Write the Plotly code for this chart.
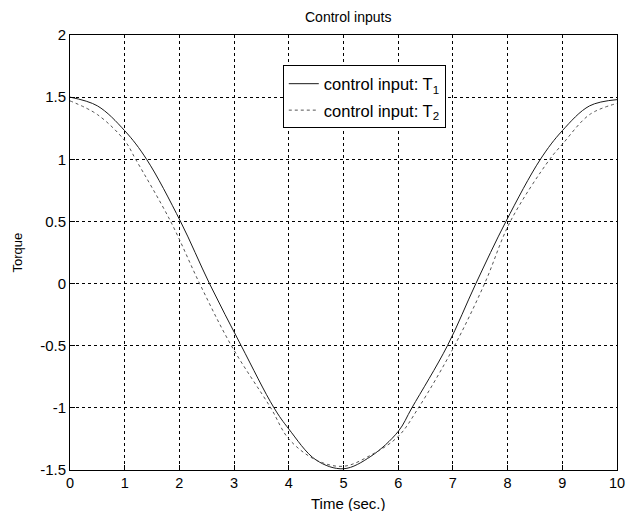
import plotly.graph_objects as go

# Data
t1_time = [0, 0.5, 1, 1.4, 2.02, 2.55, 3.13, 3.73, 4, 4.5, 5, 5.5, 6, 6.25, 6.9, 7.42, 7.97, 8.6, 9, 9.5, 10]
t1_torque = [1.5, 1.43, 1.23, 1.0, 0.5, 0.0, -0.5, -1.0, -1.17, -1.42, -1.49, -1.39, -1.19, -1.0, -0.5, 0.0, 0.5, 1.0, 1.23, 1.43, 1.48]

t2_time = [0, 0.5, 1, 1.2, 1.84, 2.37, 2.95, 3.67, 4, 4.5, 5, 5.5, 6, 6.37, 7.03, 7.58, 8.05, 8.77, 9, 9.5, 10]
t2_torque = [1.47, 1.36, 1.15, 1.0, 0.5, 0.0, -0.5, -1.0, -1.25, -1.42, -1.47, -1.38, -1.23, -1.0, -0.5, 0.0, 0.5, 1.0, 1.12, 1.36, 1.45]

x_ticks = [0, 1, 2, 3, 4, 5, 6, 7, 8, 9, 10]
y_ticks = [-1.5, -1, -0.5, 0, 0.5, 1, 1.5, 2]
y_tick_labels = ["-1.5", "-1", "-0.5", "0", "0.5", "1", "1.5", "2"]

FONT = "Liberation Sans, Arial, sans-serif"

fig = go.Figure()
fig.add_trace(go.Scatter(
    x=t1_time, y=t1_torque, mode="lines", name="control input: T<sub>1</sub>",
    legendgroup="a",
    line=dict(color="#1a1a1a", width=1, shape="spline", smoothing=1.0),
))
fig.add_trace(go.Scatter(
    x=t2_time, y=t2_torque, mode="lines", name="control input: T<sub>2</sub>",
    legendgroup="b",
    line=dict(color="#555555", width=1, dash="3px,3px", shape="spline", smoothing=1.0),
))

axis_common = dict(
    showline=True, mirror=True, linecolor="black", linewidth=1,
    showgrid=True, gridcolor="black", gridwidth=1, griddash="3px,3px",
    ticks="inside", ticklen=5, tickcolor="black", tickwidth=1,
    zeroline=False, ticklabeloverflow="allow", automargin=False,
)

# The page body has an 8px default margin, so the figure is sized/offset to
# compensate and kept small enough that no scrollbar appears.
fig.update_layout(
    width=626, height=503,
    margin=dict(l=62, r=17, t=26.5, b=40.5),
    paper_bgcolor="white", plot_bgcolor="white",
    font=dict(family=FONT, size=12, color="black"),
    showlegend=True,
    legend=dict(
        x=0.389, y=0.93, xanchor="left", yanchor="top",
        bgcolor="white", bordercolor="black", borderwidth=1,
        font=dict(family=FONT, size=16.5, color="black"),
        tracegroupgap=2,
    ),
    xaxis=dict(range=[0, 10], tickvals=x_ticks, ticktext=[str(v) for v in x_ticks],
               tickfont=dict(family=FONT, size=14.5, color="black"), **axis_common),
    yaxis=dict(range=[-1.5, 2], tickvals=y_ticks, ticktext=y_tick_labels,
               tickfont=dict(family=FONT, size=15, color="black"), **axis_common),
    annotations=[
        dict(text="Control inputs", xref="paper", yref="paper", x=0.5, xshift=4, y=1.0, yshift=18,
             xanchor="center", yanchor="middle", showarrow=False, font=dict(family=FONT, size=14)),
        dict(text="Time (sec.)", xref="paper", yref="paper", x=0.5, xshift=4, y=0, yshift=-33,
             xanchor="center", yanchor="middle", showarrow=False, font=dict(family=FONT, size=15)),
        dict(text="Torque", xref="paper", yref="paper", x=0, xshift=-53, y=0.5, textangle=-90,
             xanchor="center", yanchor="middle", showarrow=False, font=dict(family=FONT, size=13)),
    ],
)

fig.write_html("out.html")
